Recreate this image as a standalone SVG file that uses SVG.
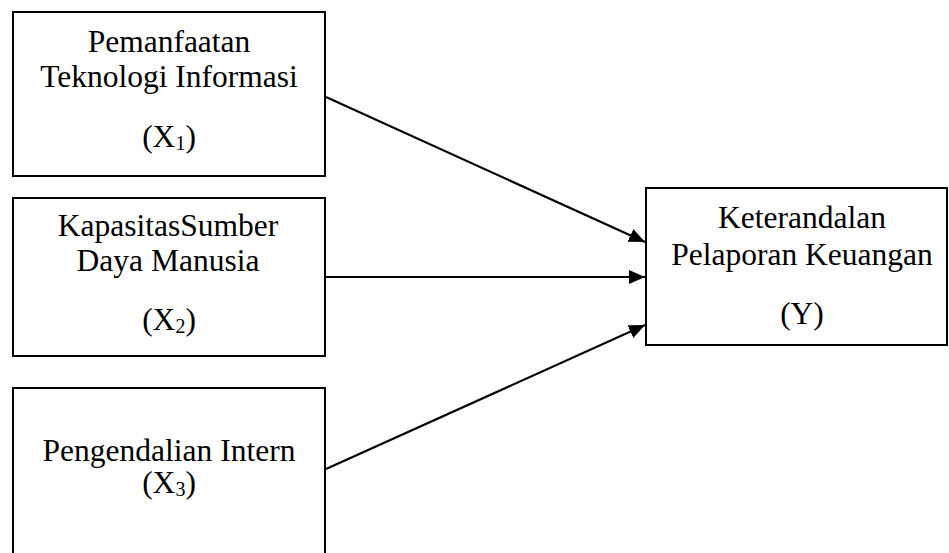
<svg xmlns="http://www.w3.org/2000/svg" width="949" height="553" viewBox="0 0 949 553">
<defs>
<style>
.box{fill:#fff;stroke:#000;stroke-width:2}
.t{font-family:"Liberation Serif","Times New Roman",serif;font-size:31.5px;fill:#000;text-anchor:middle}
.sub{font-size:20px}
.c{stroke:#000;stroke-width:2.2;fill:none}
</style>
<marker id="ah" markerUnits="userSpaceOnUse" markerWidth="18" markerHeight="16" refX="16" refY="7" orient="auto">
<path d="M0,0 L16,7 L0,14 Z" fill="#000"/>
</marker>
</defs>
<rect width="949" height="553" fill="#fff"/>
<g id="x1">
<rect class="box" x="13" y="12" width="312" height="164"/>
<text class="t" x="169" y="52">Pemanfaatan</text>
<text class="t" x="169" y="87">Teknologi Informasi</text>
<text class="t" x="169" y="147">(X<tspan class="sub" dy="3">1</tspan><tspan dy="-3">)</tspan></text>
</g>
<g id="x2">
<rect class="box" x="13" y="198" width="312" height="158"/>
<text class="t" x="168" y="236">KapasitasSumber</text>
<text class="t" x="168" y="271">Daya Manusia</text>
<text class="t" x="169" y="330">(X<tspan class="sub" dy="3">2</tspan><tspan dy="-3">)</tspan></text>
</g>
<g id="x3">
<rect class="box" x="13" y="388" width="312" height="180"/>
<text class="t" x="169" y="461">Pengendalian Intern</text>
<text class="t" x="169" y="493">(X<tspan class="sub" dy="3">3</tspan><tspan dy="-3">)</tspan></text>
</g>
<g id="y">
<rect class="box" x="646" y="188" width="301" height="157"/>
<text class="t" x="802" y="228">Keterandalan</text>
<text class="t" x="802" y="265">Pelaporan Keuangan</text>
<text class="t" x="802" y="324">(Y)</text>
</g>
<g id="connectors">
<line class="c" x1="326" y1="97" x2="645" y2="242" marker-end="url(#ah)"/>
<line class="c" x1="326" y1="277" x2="645" y2="277" marker-end="url(#ah)"/>
<line class="c" x1="326" y1="469" x2="645" y2="325" marker-end="url(#ah)"/>
</g>
</svg>
